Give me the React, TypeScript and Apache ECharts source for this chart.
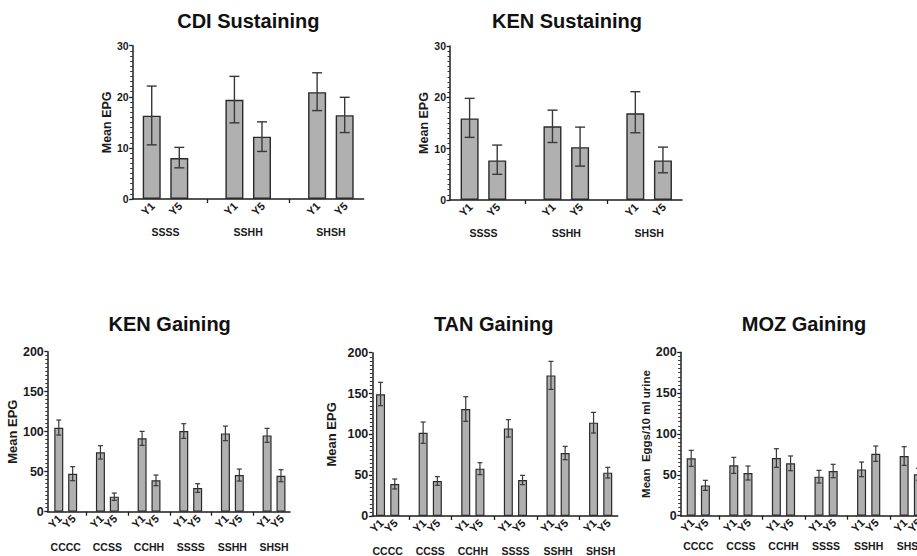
import React, { useEffect, useRef } from "react";
import * as echarts from "echarts";

// ---------- data ----------
const yearLabels = ["Y1", "Y5"];
const sustainingGroups = ["SSSS", "SSHH", "SHSH"];
const gainingGroups = ["CCCC", "CCSS", "CCHH", "SSSS", "SSHH", "SHSH"];

const cdiMean = [16.3, 8.0, 19.4, 12.2, 20.9, 16.4];
const cdiLow = [10.6, 6.1, 14.9, 9.3, 17.3, 13.0];
const cdiHigh = [22.1, 10.1, 24.0, 15.1, 24.7, 19.9];

const kenSusMean = [15.9, 7.7, 14.35, 10.3, 16.9, 7.7];
const kenSusLow = [12.2, 5.0, 11.2, 6.6, 13.1, 5.3];
const kenSusHigh = [19.8, 10.7, 17.5, 14.2, 21.1, 10.3];

const kenGainMean = [105, 47.5, 74.2, 18.8, 91.7, 39.2, 100.8, 29.6, 97.9, 45.8, 95.4, 45];
const kenGainLow = [95.8, 38.8, 65.8, 14.2, 82.9, 32.5, 91.7, 24.2, 88.8, 38.3, 86.7, 37.5];
const kenGainHigh = [114.6, 56.3, 82.5, 23.3, 100.4, 45.8, 110, 35, 107, 53.3, 104.2, 52.5];

const tanMean = [149, 39.2, 102, 42.9, 131, 58, 107.3, 44.1, 172.2, 77.1, 114.3, 53.1];
const tanLow = [135.1, 33.1, 89, 37.6, 115.9, 50.6, 96.7, 38.4, 155.1, 69, 101.6, 46.5];
const tanHigh = [163.7, 45.3, 115.1, 48.2, 146.1, 65.3, 118, 49.8, 189.4, 85.3, 126.9, 59.6];

const mozMean = [70.2, 37.1, 61.6, 52.2, 70.6, 64.1, 47.8, 54.7, 56.7, 75.9, 73.1, 50.6];
const mozLow = [60.4, 31, 51.8, 43.7, 59.2, 55.1, 40, 46.5, 47.8, 66.5, 61.6, 43.4];
const mozHigh = [80, 43.3, 71.4, 60.8, 82, 73.1, 55.5, 62.9, 65.7, 85.3, 84.5, 58];

// ---------- layout / style ----------
const FONT = "Liberation Sans, Arial, Helvetica, sans-serif";
const TEXT = "#1a1a1a";
const BAR_FILL = "#b0b0b0";
const BAR_LINE = "#2a2a2a";
const ERR_LINE = "#383838";
const AXIS_LINE = "#1e1e1e";

const panels = [
  {
    title: "CDI Sustaining", tx: 248.3, ty: 21,
    grid: { left: 132.7, top: 45.7, width: 231, height: 153.3 },
    xMin: -0.69, xMax: 7.69, yMax: 30, yInt: 10,
    groups: sustainingGroups, mean: cdiMean, low: cdiLow, high: cdiHigh,
    barWidth: 18, cap: 5, lw: 1.4,
    yName: "Mean EPG", nameGap: 19, nameSize: 12.5, tickSize: 10.5,
    yearSize: 11, yearMargin: 5, groupSize: 10.5, groupOffset: 19.5,
  },
  {
    title: "KEN Sustaining", tx: 567, ty: 21,
    grid: { left: 450, top: 46, width: 232, height: 154 },
    xMin: -0.71, xMax: 7.69, yMax: 30, yInt: 10,
    groups: sustainingGroups, mean: kenSusMean, low: kenSusLow, high: kenSusHigh,
    barWidth: 18, cap: 5, lw: 1.4,
    yName: "Mean EPG", nameGap: 19, nameSize: 12.5, tickSize: 10.5,
    yearSize: 11, yearMargin: 5, groupSize: 10.5, groupOffset: 19.5,
  },
  {
    title: "KEN Gaining", tx: 169.7, ty: 324,
    grid: { left: 47.8, top: 351.7, width: 242.2, height: 160 },
    xMin: -0.79, xMax: 16.65, yMax: 200, yInt: 50,
    groups: gainingGroups, mean: kenGainMean, low: kenGainLow, high: kenGainHigh,
    barWidth: 9, cap: 2.5, lw: 1.2,
    yName: "Mean EPG", nameGap: 26.5, nameSize: 13, tickSize: 12.5,
    yearSize: 11, yearMargin: 5, groupSize: 10.5, groupOffset: 22,
  },
  {
    title: "TAN Gaining", tx: 493.7, ty: 324,
    grid: { left: 372.3, top: 352.7, width: 245.4, height: 163.3 },
    xMin: -0.58, xMax: 16.7, yMax: 200, yInt: 50,
    groups: gainingGroups, mean: tanMean, low: tanLow, high: tanHigh,
    barWidth: 9, cap: 2.5, lw: 1.2,
    yName: "Mean EPG", nameGap: 34, nameSize: 13, tickSize: 12.5,
    yearSize: 11, yearMargin: 5, groupSize: 10.5, groupOffset: 21,
  },
  {
    title: "MOZ Gaining", tx: 804, ty: 324,
    grid: { left: 680.7, top: 352.3, width: 247.6, height: 163.4 },
    xMin: -0.74, xMax: 16.7, yMax: 200, yInt: 50,
    groups: gainingGroups, mean: mozMean, low: mozLow, high: mozHigh,
    barWidth: 9, cap: 2.5, lw: 1.2,
    yName: "Mean  Eggs/10 ml urine", nameGap: 25.5, nameSize: 11.5, tickSize: 12.5,
    yearSize: 11, yearMargin: 5, groupSize: 10.5, groupOffset: 16.5,
  },
];

function buildOption() {
  const grid: any[] = [];
  const xAxis: any[] = [];
  const yAxis: any[] = [];
  const series: any[] = [];
  const graphic: any[] = [];

  panels.forEach((p, i) => {
    grid.push({ ...p.grid, containLabel: false });

    // positions: two bars per group, one empty slot between groups
    const xs = p.mean.map((_, k) => Math.floor(k / 2) * 3 + (k % 2));
    const boundaries = p.groups.slice(1).map((_, g) => g * 3 + 2);
    const centers = p.groups.map((_, g) => g * 3 + 0.5);

    xAxis.push({
      type: "value",
      gridIndex: i,
      min: p.xMin,
      max: p.xMax,
      position: "bottom",
      splitLine: { show: false },
      axisLine: { show: true, onZero: false, lineStyle: { color: AXIS_LINE, width: 1.5 } },
      axisTick: { show: true, customValues: boundaries, length: 4, lineStyle: { color: AXIS_LINE, width: 1.3 } },
      axisLabel: { show: false },
    });
    xAxis.push({
      type: "value",
      gridIndex: i,
      min: p.xMin,
      max: p.xMax,
      position: "bottom",
      offset: p.groupOffset,
      splitLine: { show: false },
      axisLine: { show: false, onZero: false },
      axisTick: { show: false },
      axisLabel: {
        customValues: centers,
        margin: 8,
        fontFamily: FONT,
        fontWeight: "bold",
        fontSize: p.groupSize,
        color: TEXT,
        formatter: (v: number) => p.groups[Math.round((v - 0.5) / 3)] || "",
      },
    });

    yAxis.push({
      type: "value",
      gridIndex: i,
      min: 0,
      max: p.yMax,
      interval: p.yInt,
      position: "left",
      name: p.yName,
      nameLocation: "middle",
      nameGap: p.nameGap,
      nameTextStyle: { fontFamily: FONT, fontWeight: "bold", fontSize: p.nameSize, color: TEXT },
      splitLine: { show: false },
      axisLine: { show: true, onZero: false, lineStyle: { color: AXIS_LINE, width: 1.5 } },
      axisTick: { show: true, length: 3.5, lineStyle: { color: AXIS_LINE, width: 1.3 } },
      minorTick: { show: true, splitNumber: 10, length: 2.5, lineStyle: { color: "#333", width: 1 } },
      axisLabel: { margin: 4, fontFamily: FONT, fontWeight: "bold", fontSize: p.tickSize, color: TEXT },
    });

    series.push({
      type: "bar",
      xAxisIndex: i * 2,
      yAxisIndex: i,
      barWidth: p.barWidth,
      data: p.mean.map((m, k) => [xs[k], m]),
      itemStyle: { color: BAR_FILL, borderColor: BAR_LINE, borderWidth: p.lw },
      z: 2,
    });

    const cap = p.cap;
    const lw = p.lw;
    series.push({
      type: "custom",
      xAxisIndex: i * 2,
      yAxisIndex: i,
      z: 4,
      data: p.mean.map((_, k) => [xs[k], p.low[k], p.high[k]]),
      encode: { x: 0, y: [1, 2] },
      renderItem: (_params: any, api: any) => {
        const x = api.value(0);
        const lo = api.coord([x, api.value(1)]);
        const hi = api.coord([x, api.value(2)]);
        const style = { stroke: ERR_LINE, lineWidth: lw };
        return {
          type: "group",
          children: [
            { type: "line", shape: { x1: hi[0], y1: hi[1], x2: lo[0], y2: lo[1] }, style },
            { type: "line", shape: { x1: hi[0] - cap, y1: hi[1], x2: hi[0] + cap, y2: hi[1] }, style },
            { type: "line", shape: { x1: lo[0] - cap, y1: lo[1], x2: lo[0] + cap, y2: lo[1] }, style },
          ],
        };
      },
    });

    // rotated Y1 / Y5 tick labels, anchored at each bar's position on the x axis
    const ySize = p.yearSize;
    const yMargin = p.yearMargin;
    series.push({
      type: "custom",
      xAxisIndex: i * 2,
      yAxisIndex: i,
      z: 5,
      clip: false,
      silent: true,
      data: xs.map((x) => [x, 0]),
      encode: { x: 0, y: 1 },
      renderItem: (params: any, api: any) => {
        const pt = api.coord([api.value(0), 0]);
        return {
          type: "text",
          x: pt[0] + 1,
          y: pt[1] + yMargin,
          rotation: Math.PI / 4,
          style: {
            text: yearLabels[params.dataIndex % 2],
            fontFamily: FONT,
            fontWeight: "bold",
            fontSize: ySize,
            fill: TEXT,
            textAlign: "right",
            textVerticalAlign: "middle",
          },
        };
      },
    });

    graphic.push({
      type: "text",
      x: p.tx,
      y: p.ty,
      style: {
        text: p.title,
        fontFamily: FONT,
        fontWeight: "bold",
        fontSize: 20,
        fill: "#111",
        textAlign: "center",
        textVerticalAlign: "middle",
      },
    });
  });

  return {
    animation: false,
    backgroundColor: "#ffffff",
    textStyle: { fontFamily: FONT },
    grid,
    xAxis,
    yAxis,
    series,
    graphic,
  };
}

export default function App() {
  const ref = useRef<HTMLDivElement>(null);
  useEffect(() => {
    if (!ref.current) return;
    const chart = echarts.init(ref.current, undefined, { renderer: "svg" });
    chart.setOption(buildOption());
    return () => chart.dispose();
  }, []);
  return (
    <div
      style={{
        position: "absolute",
        left: 0,
        top: 0,
        width: 917,
        height: 556,
        overflow: "hidden",
        background: "#fff",
      }}
    >
      <div ref={ref} style={{ width: 960, height: 556 }} />
    </div>
  );
}
